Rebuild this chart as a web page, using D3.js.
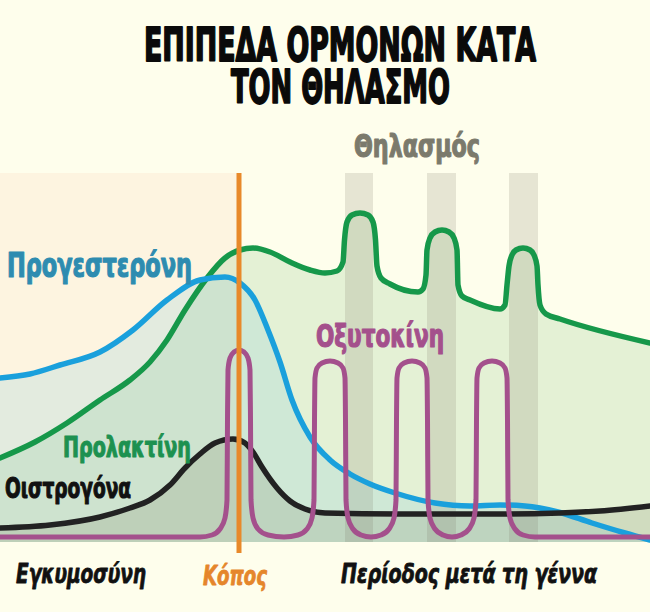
<!DOCTYPE html>
<html>
<head>
<meta charset="utf-8">
<script src="https://cdn.jsdelivr.net/npm/d3@7"></script>
<style>
html, body { margin: 0; padding: 0; background: #fefeec; }
svg { display: block; }
text { font-family: "DejaVu Sans Condensed", "Liberation Sans Narrow", "DejaVu Sans", sans-serif; font-weight: 700; }
</style>
</head>
<body>
<script>
// time runs 0..130 (arbitrary units), hormone level 0..70 (arbitrary units)

var titleLines = ["ΕΠΙΠΕΔΑ ΟΡΜΟΝΩΝ ΚΑΤΑ", "ΤΟΝ ΘΗΛΑΣΜΟ"];
var phaseNames = ["Εγκυμοσύνη", "Κόπος", "Περίοδος μετά τη γέννα"];
var feedingName = "Θηλασμός";

var laborAt = 47.8;
var feedings = [[69, 74.6], [85.4, 91.2], [101.8, 107.6]];
var levelTop = 73.8;

var progesterone = [
  [0, 32.8], [6, 33.6], [12, 35.4], [20, 38], [26.6, 42.4], [33.4, 48.4], [40, 52.4],
  [45, 53], [48, 51.8], [51, 48.4], [53.6, 42.4], [56, 36], [58.4, 28.4], [62, 21],
  [66, 16.4], [70, 13.6], [74, 11.6], [79, 9.8], [87, 7.8], [94, 7.2], [100, 7.4],
  [105, 7.2], [111.6, 6], [118.4, 3.8], [125, 1.8], [130, 0.4]
];

var prolactin = [
  [0, 16.8], [7, 20], [13.4, 23.8], [20, 28.4], [26, 32.4], [30, 36], [33.4, 40.4],
  [37, 46.4], [41.4, 52.8], [45, 56.8], [48, 58.4], [50.6, 58.8], [54, 58], [58, 56],
  [62, 54.4], [65, 53.8], [67.4, 54.2], [68.6, 56], [68.9, 60.4], [69.4, 64], [70.4, 65.4],
  [72, 65.8], [73.6, 65.4], [74.6, 64], [75.1, 60.4], [75.4, 55.2], [76.2, 52.8], [78, 51.6],
  [83.6, 50], [84.6, 50.6], [85.2, 53.4], [85.4, 58.4], [86, 60.8], [87, 62], [88.4, 62.4],
  [89.8, 62], [90.8, 60.8], [91.4, 58.4], [91.6, 51.4], [92.4, 49.2], [94, 48.4], [100, 46.6],
  [101, 47.4], [101.4, 51.4], [101.8, 55.2], [102.4, 57.4], [103.2, 58.4], [104.6, 58.8],
  [106, 58.4], [106.8, 57.4], [107.4, 55.2], [107.6, 51.4], [108, 47.4], [109.2, 45.6],
  [112, 44.6], [130, 39.8]
];

var estrogen = [
  [0, 2.8], [10, 3.4], [20, 5], [26, 6.8], [30, 8.4], [34, 11.4], [37, 14.8], [40, 17.6],
  [43, 19.8], [46.6, 20.6], [49, 19.8], [50.6, 18], [52.4, 15], [55.4, 10.8], [58, 8.2],
  [61, 6.6], [65, 5.8], [80, 5.6], [100, 5.6], [112, 5.8], [120, 6.2], [130, 7.2]
];

var oxytocin = [
  [0, 1], [40, 1], [42.4, 1.4], [44, 2.6], [45, 4.8], [45.4, 8.4], [45.5, 24.4], [45.6, 34.4],
  [46, 36.8], [46.8, 38], [47.8, 38.4], [48.8, 38], [49.6, 36.8], [50, 34.4], [50.1, 24.4],
  [50.2, 8.4], [50.6, 4.8], [51.6, 2.6], [53.6, 1.4], [56.8, 1], [59.6, 1.4], [61.4, 2.6],
  [62.4, 4.8], [62.8, 8.4], [62.9, 24.4], [63, 32.8], [63.4, 34.8], [64.4, 35.8], [66, 36.2],
  [67.6, 35.8], [68.6, 34.8], [69, 32.8], [69.1, 24.4], [69.2, 8.4], [69.6, 4.8], [70.6, 2.6],
  [72.2, 1.4], [74.2, 1], [76.2, 1.4], [77.8, 2.6], [78.8, 4.8], [79.2, 8.4], [79.3, 24.4],
  [79.4, 32.8], [79.8, 34.8], [80.8, 35.8], [82.4, 36.2], [84, 35.8], [85, 34.8], [85.4, 32.8],
  [85.5, 24.4], [85.6, 8.4], [86, 4.8], [87, 2.6], [88.6, 1.4], [90.4, 1], [92.2, 1.4],
  [93.8, 2.6], [94.8, 4.8], [95.2, 8.4], [95.3, 24.4], [95.4, 32.8], [95.8, 34.8], [96.8, 35.8],
  [98.4, 36.2], [100, 35.8], [101, 34.8], [101.4, 32.8], [101.5, 24.4], [101.6, 8.4], [102, 4.8],
  [103, 2.6], [104.6, 1.4], [107, 1], [130, 1]
];

var hormoneNames = ["Προγεστερόνη", "Οξυτοκίνη", "Προλακτίνη", "Οιστρογόνα"];

var svg = d3.select("body").append("svg").attr("width", 650).attr("height", 612);

var x = d3.scaleLinear().domain([0, 130]).range([0, 650]);
var y = d3.scaleLinear().domain([0, 70]).range([542, 192]);

svg.append("rect").attr("width", 650).attr("height", 612).attr("fill", "#fefeec");

// pregnancy background
svg.append("rect")
  .attr("x", x(0)).attr("y", y(levelTop))
  .attr("width", x(laborAt) - x(0)).attr("height", y(0) - y(levelTop))
  .attr("fill", "#fdf4e0");

var area = d3.area().x(d => x(d[0])).y0(y(0)).y1(d => y(d[1])).curve(d3.curveMonotoneX);
var line = d3.line().x(d => x(d[0])).y(d => y(d[1])).curve(d3.curveMonotoneX);

svg.append("path").attr("d", area(prolactin)).attr("fill", "#a8d5a0").attr("fill-opacity", 0.3);
svg.append("path").attr("d", area(progesterone)).attr("fill", "#7cc6da").attr("fill-opacity", 0.2);
svg.append("path").attr("d", area(estrogen)).attr("fill", "#5b5e3c").attr("fill-opacity", 0.14);

// breastfeeding bands
svg.selectAll(".feed").data(feedings).enter().append("rect")
  .attr("class", "feed")
  .attr("x", d => x(d[0])).attr("y", y(levelTop))
  .attr("width", d => x(d[1]) - x(d[0])).attr("height", y(0) - y(levelTop))
  .attr("fill", "#787364").attr("fill-opacity", 0.18);

function drawLine(data, color, w) {
  svg.append("path").attr("d", line(data)).attr("fill", "none")
    .attr("stroke", color).attr("stroke-width", w)
    .attr("stroke-linejoin", "round").attr("stroke-linecap", "round");
}
drawLine(prolactin, "#16984a", 5.5);
drawLine(progesterone, "#1aa0dc", 5.5);
drawLine(estrogen, "#222222", 5.5);
drawLine(oxytocin, "#a4508c", 5);

// labor
svg.append("line")
  .attr("x1", x(laborAt)).attr("x2", x(laborAt))
  .attr("y1", y(levelTop)).attr("y2", y(-2.2))
  .attr("stroke", "#e8892a").attr("stroke-width", 5);

function label(txt, x0, base, w, size, color, italic, heavy) {
  svg.append("text").text(txt)
    .attr("x", x0).attr("y", base)
    .attr("font-size", size).attr("fill", color)
    .attr("stroke", color).attr("stroke-width", heavy || 0.8)
    .attr("stroke-linejoin", "round")
    .attr("font-style", italic ? "italic" : "normal")
    .attr("textLength", w).attr("lengthAdjust", "spacingAndGlyphs");
}

label(titleLines[0], 144, 61, 392, 46, "#0a0a0a", false, 1.8);
label(titleLines[1], 231, 103, 219, 46, "#0a0a0a", false, 1.8);
label(feedingName, 354, 157, 126, 32, "#7b7a6c", false, 1.2);

label(hormoneNames[0], 7, 277, 185, 33, "#2e8cb0", false, 1.2);
label(hormoneNames[1], 316, 347, 128, 31, "#a4508c", false, 1.2);
label(hormoneNames[2], 63, 457, 128, 29, "#1d9150", false, 1.1);
label(hormoneNames[3], 5, 498, 126, 28, "#111111", false, 1.1);

label(phaseNames[0], 16, 583, 130, 27, "#111111", true);
label(phaseNames[1], 203, 585, 64, 27, "#e5862b", true);
label(phaseNames[2], 341, 583, 256, 27, "#111111", true);
</script>
</body>
</html>
